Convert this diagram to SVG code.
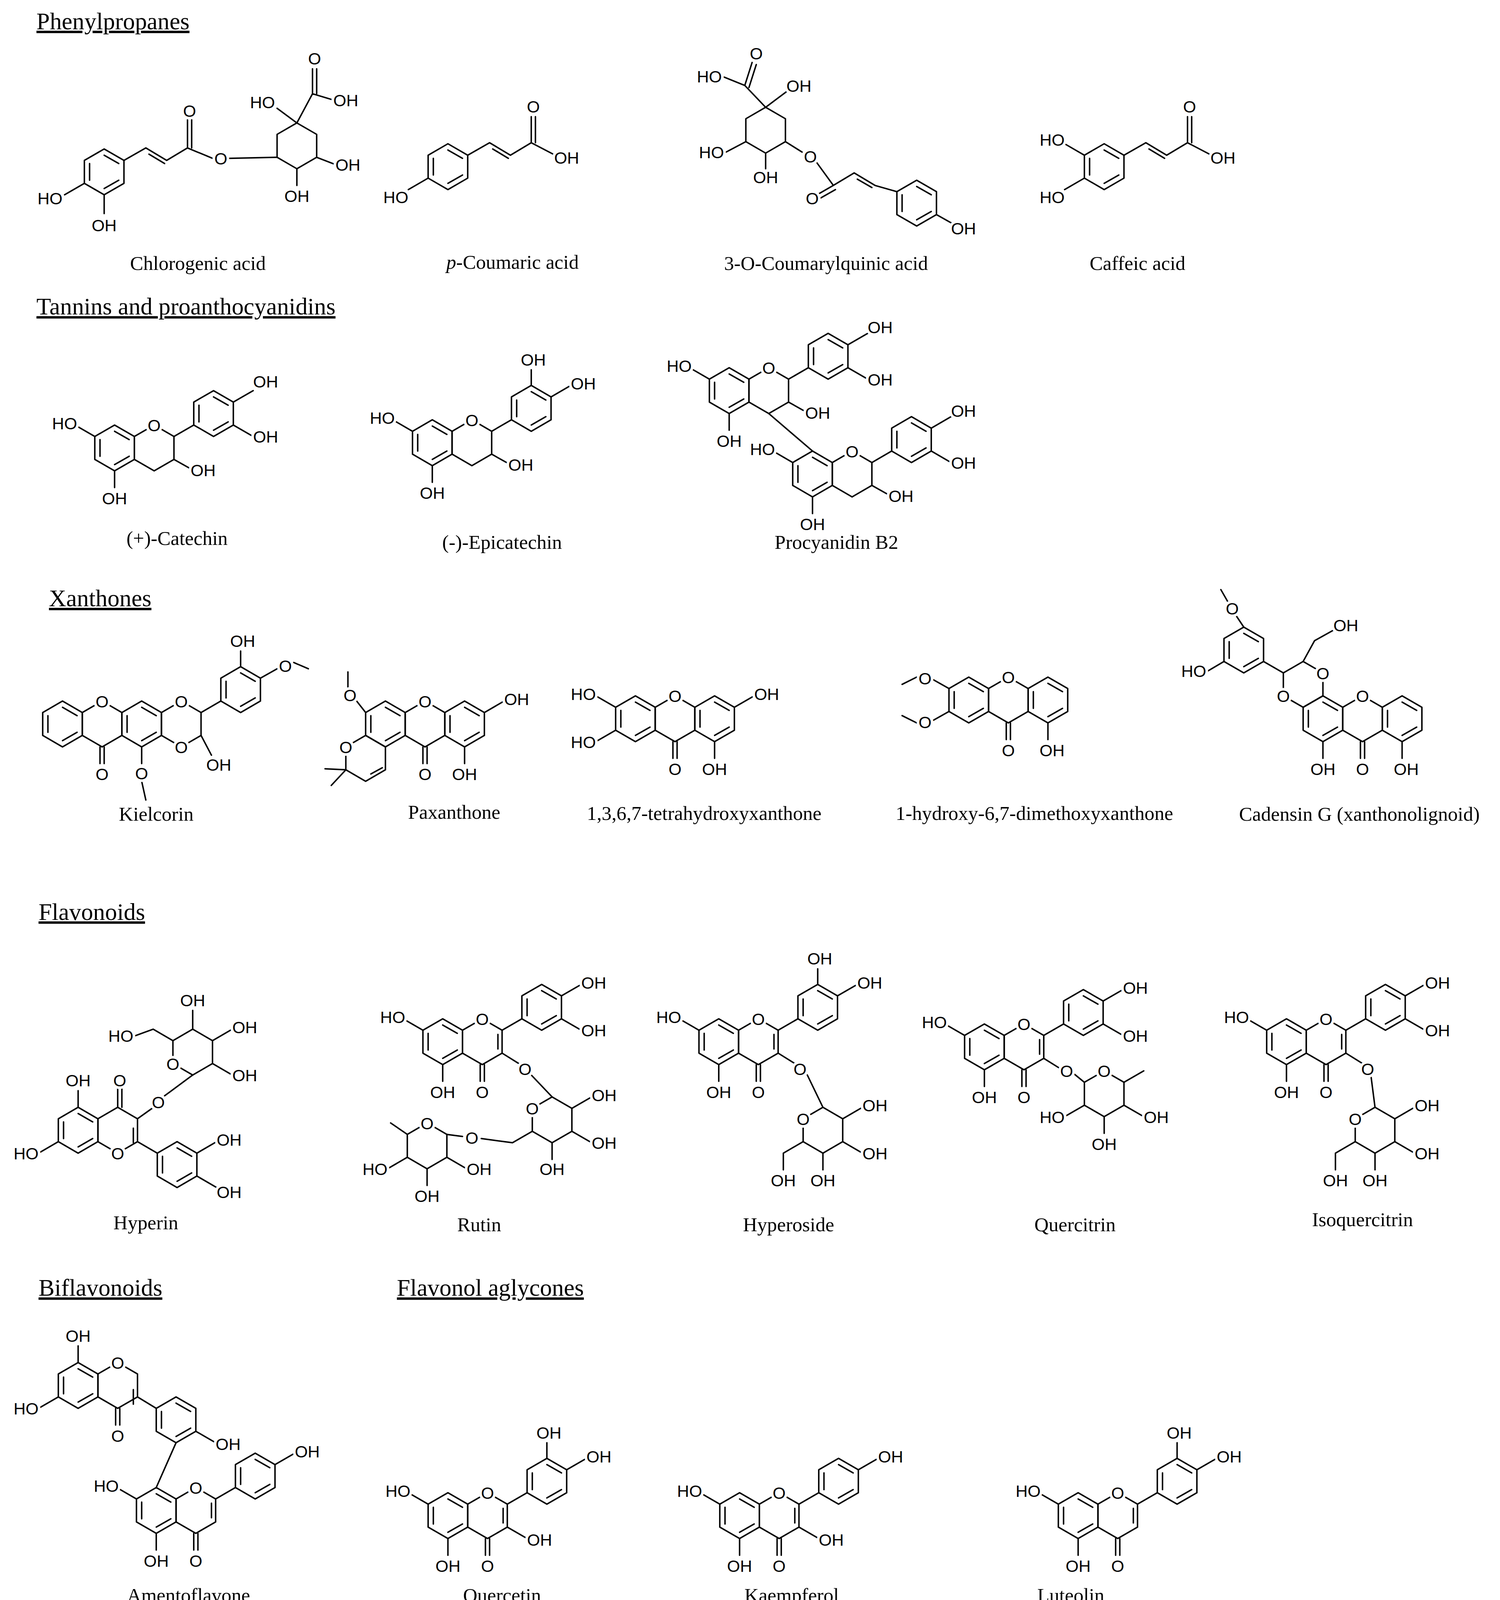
<svg xmlns="http://www.w3.org/2000/svg" width="3840" height="4188" viewBox="0 0 3840 4188">
<style>
.b{fill:none;stroke:#000;stroke-width:1.4;stroke-linejoin:round;stroke-linecap:round}
.a{font-family:"Liberation Sans",Arial,sans-serif;font-size:16px;fill:#000;paint-order:stroke;stroke:#fff;stroke-width:5px;stroke-linejoin:round}
.e{text-anchor:end}
.m{text-anchor:middle}
.w{fill:#fff}
.l{font-family:"Liberation Serif","Times New Roman",serif;font-size:19px;fill:#000;text-anchor:middle}
.h{font-family:"Liberation Serif","Times New Roman",serif;font-size:23px;fill:#000;text-decoration:underline}
</style>
<defs>
<path id="hx" class="b" d="M0,-22 L19,-11 L19,11 L0,22 L-19,11 L-19,-11Z"/>
<circle id="ob" class="w" r="7"/>
<g id="ar"><use href="#hx"/><path class="b" d="M0,-16 L14,-8 M14,8 L0,16 M-14,8 L-14,-8"/></g>
<g id="flav">
<use href="#ar"/><use href="#hx" x="38"/><path class="b" d="M53,-7 L53,7 M57,-11 L76,-22 M36,22 L36,38 M40,22 L40,38 M-19,-11 L-38,-22 M0,22 L0,38"/>
<use href="#ar" x="95" y="-33"/><use href="#ob" x="38" y="-22"/>
<text class="a m" x="38" y="-16">O</text><text class="a m" x="38" y="54">O</text>
<text class="a e" x="-36" y="-18">HO</text><text class="a m" x="0" y="54">OH</text>
</g>
<g id="xan">
<use href="#ar"/><use href="#hx" x="38"/><use href="#ar" x="76"/><path class="b" d="M36,22 L36,38 M40,22 L40,38"/><use href="#ob" x="38" y="-22"/>
<text class="a m" x="38" y="-16">O</text><text class="a m" x="38" y="54">O</text>
</g>
<g id="cat">
<use href="#ar"/><use href="#hx" x="38"/><path class="b" d="M57,-11 L76,-22 M-19,-11 L-38,-22 M0,22 L0,38"/><use href="#ar" x="95" y="-33"/><use href="#ob" x="38" y="-22"/>
<text class="a m" x="38" y="-16">O</text>
<text class="a e" x="-36" y="-18">HO</text><text class="a m" x="0" y="54">OH</text>
</g>
</defs>
<rect width="3840" height="4188" fill="#fff"/>
<g transform="scale(2.6667)">
<g id="headings">
<text class="h" x="35" y="28">Phenylpropanes</text>
<text class="h" x="35" y="302">Tannins and proanthocyanidins</text>
<text class="h" x="47" y="582">Xanthones</text>
<text class="h" x="37" y="883">Flavonoids</text>
<text class="h" x="37" y="1244">Biflavonoids</text>
<text class="h" x="381" y="1244">Flavonol aglycones</text>
</g>
<g id="chlorogenic">
<use href="#ar" x="100" y="165"/>
<use href="#hx" x="285" y="140"/>
<path class="b" d="M81,176 L62,187 M100,187 L100,205 M119,154 L140,142 L160,154 L180,142 M143,148 L158,157 M180,142 L180,115 M184,142 L184,115 M180,142 L204,152 M220,152 L266,151 M285,118 L266,104 M285,118 L300,90 L300,66 M304,90 L304,66 M300,90 L320,96 M304,151 L322,158 M285,162 L285,178"/>
<use href="#ob" x="212" y="152"/>
<text class="a e" x="60" y="196">HO</text><text class="a m" x="100" y="222">OH</text>
<text class="a m" x="182" y="112">O</text><text class="a m" x="212" y="158">O</text>
<text class="a e" x="264" y="104">HO</text><text class="a m" x="302" y="62">O</text><text class="a" x="320" y="102">OH</text>
<text class="a" x="322" y="164">OH</text><text class="a m" x="285" y="194">OH</text>
<text class="l" x="190" y="259">Chlorogenic acid</text>
</g>
<g id="pcoumaric">
<use href="#ar" x="430" y="160"/>
<path class="b" d="M411,171 L392,182 M449,149 L470,137 L490,149 L510,137 M473,143 L488,152 M510,137 L510,112 M514,137 L514,112 M510,137 L533,149"/>
<text class="a e" x="392" y="195">HO</text><text class="a m" x="512" y="108">O</text><text class="a" x="532" y="157">OH</text>
<text class="l" x="492" y="258"><tspan font-style="italic">p</tspan>-Coumaric acid</text>
</g>
<g id="coumarylquinic">
<use href="#hx" x="735" y="125"/>
<use href="#ar" x="880" y="195"/>
<path class="b" d="M735,103 L715,82 L695,74 M715,82 L722,60 M719,84 L726,62 M735,103 L755,88 M716,136 L697,146 M735,147 L735,162 M754,136 L770,146 M784,156 L800,178 M800,178 L786,186 M802,182 L788,190 M800,178 L820,166 L840,178 L861,184 M823,172 L837,180 M899,206 L915,215"/>
<use href="#ob" x="778" y="150"/>
<text class="a e" x="693" y="79">HO</text><text class="a m" x="726" y="57">O</text><text class="a" x="755" y="88">OH</text>
<text class="a e" x="695" y="152">HO</text><text class="a m" x="735" y="176">OH</text>
<text class="a m" x="778" y="156">O</text><text class="a e" x="786" y="196">O</text><text class="a" x="913" y="225">OH</text>
<text class="l" x="793" y="259">3-O-Coumarylquinic  acid</text>
</g>
<g id="caffeic">
<use href="#ar" x="1060" y="160"/>
<path class="b" d="M1041,149 L1022,138 M1041,171 L1022,182 M1079,149 L1100,137 L1120,149 L1140,137 M1103,143 L1118,152 M1140,137 L1140,112 M1144,137 L1144,112 M1140,137 L1163,149"/>
<text class="a e" x="1022" y="140">HO</text><text class="a e" x="1022" y="195">HO</text>
<text class="a m" x="1142" y="108">O</text><text class="a" x="1162" y="157">OH</text>
<text class="l" x="1092" y="259">Caffeic acid</text>
</g>
<g id="catechin">
<use href="#cat" x="110" y="430"/>
<path class="b" d="M167,441 L183,450 M224,386 L243,375 M224,408 L243,419"/>
<text class="a" x="183" y="457">OH</text><text class="a" x="243" y="372">OH</text><text class="a" x="243" y="425">OH</text>
<text class="l" x="170" y="523">(+)-Catechin</text>
</g>
<g id="epicatechin">
<use href="#cat" x="415" y="425"/>
<path class="b" d="M472,436 L488,445 M510,370 L510,355 M529,381 L548,370"/>
<text class="a" x="488" y="452">OH</text><text class="a m" x="512" y="351">OH</text><text class="a" x="548" y="374">OH</text>
<text class="l" x="482" y="527">(-)-Epicatechin</text>
</g>
<g id="procyanidin">
<use href="#cat" x="700" y="375"/>
<use href="#cat" x="780" y="455"/>
<path class="b" d="M738,397 L780,433 M757,386 L773,395 M814,331 L833,320 M814,353 L833,364 M837,466 L853,475 M894,411 L913,400 M894,433 L913,444"/>
<text class="a" x="773" y="402">OH</text><text class="a" x="833" y="320">OH</text><text class="a" x="833" y="370">OH</text>
<text class="a" x="853" y="482">OH</text><text class="a" x="913" y="400">OH</text><text class="a" x="913" y="450">OH</text>
<text class="l" x="803" y="527">Procyanidin B2</text>
</g>
<g id="kielcorin">
<use href="#xan" x="60" y="695"/>
<use href="#hx" x="174" y="695"/><use href="#ar" x="231" y="662"/>
<path class="b" d="M193,684 L212,673 M193,706 L203,725 M136,717 L136,733 M136,750 L140,768 M231,640 L231,625 M250,651 L266,642 M282,636 L296,642"/>
<use href="#ob" x="174" y="673"/><use href="#ob" x="174" y="717"/>
<text class="a m" x="174" y="679">O</text><text class="a m" x="174" y="723">O</text>
<text class="a" x="198" y="740">OH</text>
<text class="a m" x="136" y="748">O</text><text class="a m" x="233" y="621">OH</text><text class="a m" x="274" y="645">O</text>
<text class="l" x="150" y="788">Kielcorin</text>
</g>
<g id="paxanthone">
<use href="#xan" x="370" y="695"/>
<use href="#hx" x="351" y="728"/>
<path class="b" d="M351,684 L340,670 M334,660 L334,645 M465,684 L484,673 M446,717 L446,733 M332,739 L312,738 M332,739 L318,754 M356,743 L367,737"/>
<use href="#ob" x="332" y="717"/>
<text class="a m" x="336" y="673">O</text><text class="a m" x="332" y="723">O</text>
<text class="a" x="484" y="677">OH</text><text class="a m" x="446" y="749">OH</text>
<text class="l" x="436" y="786">Paxanthone</text>
</g>
<g id="tetrahydroxy">
<use href="#xan" x="610" y="690"/>
<path class="b" d="M591,679 L572,668 M591,701 L572,712 M705,679 L724,668 M686,712 L686,728"/>
<text class="a e" x="572" y="672">HO</text><text class="a e" x="572" y="718">HO</text>
<text class="a" x="724" y="672">OH</text><text class="a m" x="686" y="744">OH</text>
<text class="l" x="676" y="787">1,3,6,7-tetrahydroxyxanthone</text>
</g>
<g id="dimethoxy">
<use href="#xan" x="930" y="672"/>
<path class="b" d="M911,661 L895,652 M880,650 L866,657 M911,683 L895,692 M880,694 L866,687 M1006,694 L1006,710"/>
<text class="a m" x="888" y="657">O</text><text class="a m" x="888" y="699">O</text>
<text class="a m" x="1010" y="726">OH</text>
<text class="l" x="993" y="787">1-hydroxy-6,7-dimethoxyxanthone</text>
</g>
<g id="cadensin">
<use href="#xan" x="1270" y="690"/>
<use href="#hx" x="1251" y="657"/><use href="#ar" x="1194" y="624"/>
<path class="b" d="M1270,712 L1270,728 M1346,712 L1346,728 M1232,646 L1213,635 M1251,635 L1262,615 L1280,605 M1194,602 L1186,590 M1180,580 L1172,566 M1175,635 L1158,645"/>
<use href="#ob" x="1270" y="646"/><use href="#ob" x="1232" y="668"/>
<text class="a m" x="1270" y="652">O</text><text class="a m" x="1232" y="674">O</text>
<text class="a" x="1280" y="606">OH</text><text class="a m" x="1183" y="590">O</text><text class="a e" x="1158" y="650">HO</text>
<text class="a m" x="1270" y="744">OH</text><text class="a m" x="1350" y="744">OH</text>
<text class="l" x="1305" y="788">Cadensin G (xanthonolignoid)</text>
</g>
<g id="hyperin">
<use href="#ar" x="75" y="1085"/><use href="#hx" x="113" y="1085"/><use href="#ar" x="170" y="1118"/>
<use href="#hx" x="185" y="1010"/>
<path class="b" d="M113,1063 L113,1045 M117,1063 L117,1045 M128,1083 L128,1097 M132,1096 L151,1107 M132,1074 L146,1064 M158,1052 L185,1032 M75,1063 L75,1047 M56,1096 L37,1107 M189,1107 L208,1096 M189,1129 L208,1140 M204,999 L223,988 M204,1021 L223,1032 M185,988 L185,970 M166,999 L147,988 L128,995"/>
<use href="#ob" x="113" y="1107"/><use href="#ob" x="166" y="1021"/><use href="#ob" x="152" y="1058"/>
<text class="a m" x="113" y="1113">O</text><text class="a m" x="115" y="1043">O</text><text class="a m" x="152" y="1064">O</text>
<text class="a m" x="75" y="1043">OH</text><text class="a e" x="37" y="1113">HO</text>
<text class="a" x="208" y="1100">OH</text><text class="a" x="208" y="1150">OH</text>
<text class="a m" x="166" y="1027">O</text><text class="a e" x="128" y="1000">HO</text><text class="a m" x="185" y="966">OH</text><text class="a" x="223" y="992">OH</text><text class="a" x="223" y="1038">OH</text>
<text class="l" x="140" y="1180">Hyperin</text>
</g>
<g id="rutin">
<use href="#flav" x="425" y="1000"/>
<use href="#hx" x="530" y="1075"/><use href="#hx" x="410" y="1100"/>
<path class="b" d="M482,1011 L498,1021 M510,1032 L530,1053 M539,956 L558,945 M539,978 L558,989 M549,1064 L568,1053 M549,1086 L568,1097 M530,1097 L530,1113 M511,1086 L492,1097 L462,1093 M444,1091 L429,1089 M391,1111 L372,1122 M410,1122 L410,1138 M429,1111 L448,1122 M391,1089 L375,1078"/>
<use href="#ob" x="504" y="1026"/><use href="#ob" x="511" y="1064"/><use href="#ob" x="453" y="1092"/><use href="#ob" x="410" y="1078"/>
<text class="a m" x="504" y="1032">O</text><text class="a m" x="511" y="1070">O</text><text class="a m" x="453" y="1098">O</text><text class="a m" x="410" y="1084">O</text>
<text class="a" x="558" y="949">OH</text><text class="a" x="558" y="995">OH</text>
<text class="a" x="568" y="1057">OH</text><text class="a" x="568" y="1103">OH</text><text class="a m" x="530" y="1128">OH</text>
<text class="a e" x="372" y="1128">HO</text><text class="a m" x="410" y="1154">OH</text><text class="a" x="448" y="1128">OH</text>
<text class="l" x="460" y="1182">Rutin</text>
</g>
<g id="hyperoside">
<use href="#flav" x="690" y="1000"/>
<use href="#hx" x="790" y="1085"/>
<path class="b" d="M747,1011 L763,1021 M775,1032 L790,1063 M785,945 L785,930 M804,956 L823,945 M809,1074 L828,1063 M809,1096 L828,1107 M790,1107 L790,1123 M771,1096 L752,1107 L752,1123"/>
<use href="#ob" x="768" y="1026"/><use href="#ob" x="771" y="1074"/>
<text class="a m" x="768" y="1032">O</text><text class="a m" x="771" y="1080">O</text>
<text class="a m" x="787" y="926">OH</text><text class="a" x="823" y="949">OH</text>
<text class="a" x="828" y="1067">OH</text><text class="a" x="828" y="1113">OH</text><text class="a m" x="790" y="1139">OH</text><text class="a m" x="752" y="1139">OH</text>
<text class="l" x="757" y="1182">Hyperoside</text>
</g>
<g id="quercitrin">
<use href="#flav" x="945" y="1005"/>
<use href="#hx" x="1060" y="1050"/>
<path class="b" d="M1002,1016 L1018,1026 M1030,1030 L1041,1039 M1059,961 L1078,950 M1059,983 L1078,994 M1079,1039 L1098,1028 M1079,1061 L1098,1072 M1060,1072 L1060,1088 M1041,1061 L1022,1072"/>
<use href="#ob" x="1024" y="1028"/><use href="#ob" x="1060" y="1028"/>
<text class="a m" x="1024" y="1034">O</text><text class="a m" x="1060" y="1034">O</text>
<text class="a" x="1078" y="954">OH</text><text class="a" x="1078" y="1000">OH</text>
<text class="a" x="1098" y="1078">OH</text><text class="a m" x="1060" y="1104">OH</text><text class="a e" x="1022" y="1078">HO</text>
<text class="l" x="1032" y="1182">Quercitrin</text>
</g>
<g id="isoquercitrin">
<use href="#flav" x="1235" y="1000"/>
<use href="#hx" x="1320" y="1085"/>
<path class="b" d="M1292,1011 L1308,1021 M1316,1032 L1320,1063 M1349,956 L1368,945 M1349,978 L1368,989 M1339,1074 L1358,1063 M1339,1096 L1358,1107 M1320,1107 L1320,1123 M1301,1096 L1282,1107 L1282,1123"/>
<use href="#ob" x="1313" y="1026"/><use href="#ob" x="1301" y="1074"/>
<text class="a m" x="1313" y="1032">O</text><text class="a m" x="1301" y="1080">O</text>
<text class="a" x="1368" y="949">OH</text><text class="a" x="1368" y="995">OH</text>
<text class="a" x="1358" y="1067">OH</text><text class="a" x="1358" y="1113">OH</text><text class="a m" x="1320" y="1139">OH</text><text class="a m" x="1282" y="1139">OH</text>
<text class="l" x="1308" y="1177">Isoquercitrin</text>
</g>
<g id="amentoflavone">
<use href="#ar" x="75" y="1330"/><use href="#hx" x="113" y="1330"/>
<path class="b" d="M128,1334 L128,1348 M132,1341 L150,1352 M111,1352 L111,1368 M115,1352 L115,1368 M75,1308 L75,1292 M56,1341 L37,1352 M169,1385 L150,1428 M188,1374 L207,1385"/>
<use href="#ar" x="169" y="1363"/>
<use href="#flav" x="150" y="1450"/>
<path class="b" d="M264,1406 L283,1395"/>
<use href="#ob" x="113" y="1308"/>
<text class="a m" x="113" y="1314">O</text><text class="a m" x="113" y="1384">O</text>
<text class="a m" x="75" y="1288">OH</text><text class="a e" x="37" y="1358">HO</text>
<text class="a" x="207" y="1392">OH</text><text class="a" x="283" y="1399">OH</text>
<text class="l" x="181" y="1538">Amentoflavone</text>
</g>
<g id="quercetin">
<use href="#flav" x="430" y="1455"/>
<path class="b" d="M487,1466 L506,1477 M525,1400 L525,1385 M544,1411 L563,1400"/>
<text class="a" x="506" y="1484">OH</text><text class="a m" x="527" y="1381">OH</text><text class="a" x="563" y="1404">OH</text>
<text class="l" x="482" y="1538">Quercetin</text>
</g>
<g id="kaempferol">
<use href="#flav" x="710" y="1455"/>
<path class="b" d="M767,1466 L786,1477 M824,1411 L843,1400"/>
<text class="a" x="786" y="1484">OH</text><text class="a" x="843" y="1404">OH</text>
<text class="l" x="760" y="1538">Kaempferol</text>
</g>
<g id="luteolin">
<use href="#flav" x="1035" y="1455"/>
<path class="b" d="M1130,1400 L1130,1385 M1149,1411 L1168,1400"/>
<text class="a m" x="1132" y="1381">OH</text><text class="a" x="1168" y="1404">OH</text>
<text class="l" x="1028" y="1538">Luteolin</text>
</g>
</g>
</svg>
